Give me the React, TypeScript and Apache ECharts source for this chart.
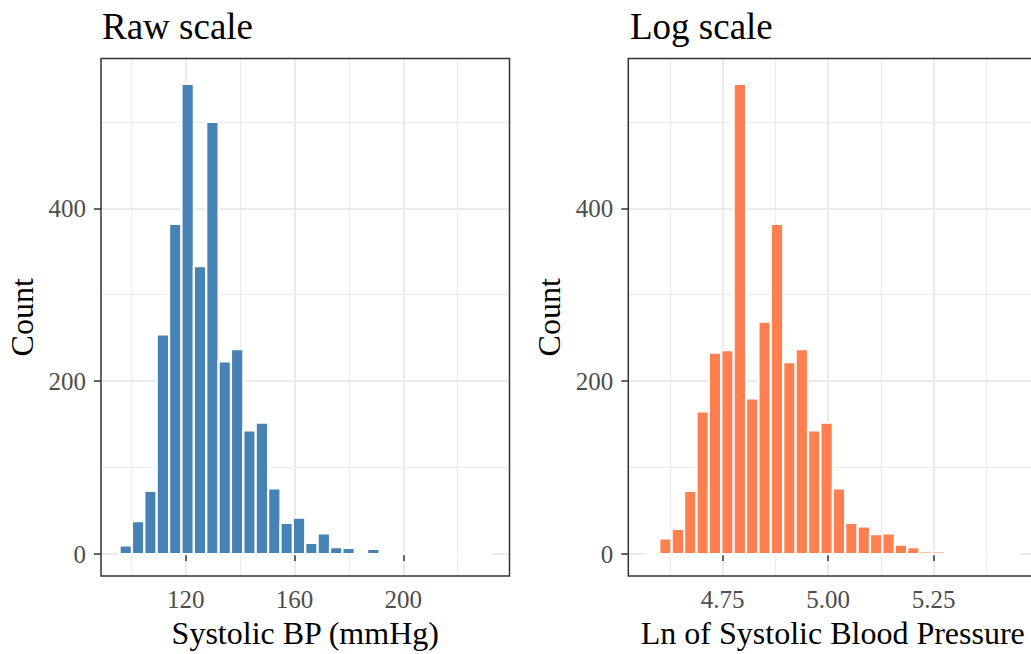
import React, { useEffect, useRef } from "react";
import * as echarts from "echarts";

// ---- data ----
const rawBinStart = 95.69;
const rawBinWidth = 4.551;
const rawCounts = [10, 38, 73, 254, 382, 544, 333, 500, 223, 237, 143, 152, 76, 36, 42, 13, 24, 8, 7, 2, 6, 0, 1, 0, 0, 0, 1, 0, 0, 1];

const lnBinStart = 4.5704;
const lnBinWidth = 0.02937;
const lnCounts = [0, 18, 29, 73, 165, 233, 236, 544, 180, 269, 382, 222, 237, 143, 152, 76, 36, 32, 23, 24, 11, 8, 3, 3, 0, 0, 1, 0, 0, 1];

const yTicks = [0, 200, 400];
const yMinor = [100, 300, 500];
const rawTicks = [120, 160, 200];
const rawMinor = [100, 140, 180, 220];
const lnTicks = [4.75, 5.0, 5.25];
const lnMinor = [4.625, 4.875, 5.125, 5.375];

const Y_MIN = -25.5;
const Y_MAX = 573.3;

const FONT = "'Liberation Serif', 'Times New Roman', serif";

function bins(start: number, width: number, counts: number[]) {
  return counts.map((c, i) => [start + i * width, start + (i + 1) * width, c]);
}

const rawData = bins(rawBinStart, rawBinWidth, rawCounts);
const lnData = bins(lnBinStart, lnBinWidth, lnCounts);

const GRID_COLOR = "#EBEBEB";
const DARK = "#333333";

function mainX(gridIndex: number, min: number, max: number, ticks: number[], name: string, fmt: (v: number) => string) {
  return {
    type: "value",
    gridIndex,
    min,
    max,
    position: "bottom",
    name,
    nameLocation: "middle",
    nameGap: 36,
    nameTextStyle: { fontFamily: FONT, fontSize: 32, color: "#000" },
    axisLine: { show: false },
    axisTick: { show: true, length: 7, lineStyle: { color: DARK, width: 1.5 }, customValues: ticks },
    axisLabel: { show: true, margin: 11, fontFamily: FONT, fontSize: 25, color: "#4D4D4D", customValues: ticks, formatter: fmt },
    splitLine: { show: true, lineStyle: { color: GRID_COLOR, width: 2 } },
  };
}

function minorX(gridIndex: number, min: number, max: number, ticks: number[]) {
  return {
    type: "value",
    gridIndex,
    min,
    max,
    position: "bottom",
    axisLine: { show: false },
    axisTick: { show: false, customValues: ticks },
    axisLabel: { show: false, customValues: ticks },
    splitLine: { show: true, lineStyle: { color: GRID_COLOR, width: 1.1 } },
  };
}

function mainY(gridIndex: number) {
  return {
    type: "value",
    gridIndex,
    min: Y_MIN,
    max: Y_MAX,
    name: "Count",
    nameLocation: "middle",
    nameGap: 63,
    nameTextStyle: { fontFamily: FONT, fontSize: 32, color: "#000" },
    axisLine: { show: false },
    axisTick: { show: true, length: 7, lineStyle: { color: DARK, width: 1.5 }, customValues: yTicks },
    axisLabel: { show: true, margin: 15, fontFamily: FONT, fontSize: 25, color: "#4D4D4D", customValues: yTicks },
    splitLine: { show: true, lineStyle: { color: GRID_COLOR, width: 2 } },
  };
}

function minorY(gridIndex: number) {
  return {
    type: "value",
    gridIndex,
    min: Y_MIN,
    max: Y_MAX,
    axisLine: { show: false },
    axisTick: { show: false, customValues: yMinor },
    axisLabel: { show: false, customValues: yMinor },
    splitLine: { show: true, lineStyle: { color: GRID_COLOR, width: 1.1 } },
  };
}

function histSeries(xAxisIndex: number, yAxisIndex: number, data: number[][], color: string) {
  return {
    type: "custom",
    xAxisIndex,
    yAxisIndex,
    z: 5,
    data,
    encode: { x: [0, 1], y: 2 },
    renderItem: (params: any, api: any) => {
      const x0 = api.value(0);
      const x1 = api.value(1);
      const c = api.value(2);
      const p0 = api.coord([x0, c]);
      const p1 = api.coord([x1, 0]);
      return {
        type: "rect",
        shape: { x: p0[0], y: p0[1], width: p1[0] - p0[0], height: p1[1] - p0[1] },
        style: { fill: color, stroke: "#FFFFFF", lineWidth: 2.2 },
      };
    },
  };
}

export default function App() {
  const ref = useRef<HTMLDivElement>(null);
  useEffect(() => {
    if (!ref.current) return;
    const chart = echarts.init(ref.current, undefined, { renderer: "svg" });
    const option: any = {
      animation: false,
      backgroundColor: "#FFFFFF",
      title: [
        { text: "Raw scale", left: 97, top: 3, textStyle: { fontFamily: FONT, fontSize: 37, fontWeight: "normal", color: "#000" } },
        { text: "Log scale", left: 625, top: 3, textStyle: { fontFamily: FONT, fontSize: 37, fontWeight: "normal", color: "#000" } },
      ],
      grid: [
        { left: 101, top: 58.5, width: 408.5, height: 521, show: true, borderColor: DARK, borderWidth: 1.5, backgroundColor: "transparent", z: 3 },
        { left: 628.3, top: 58.5, width: 409, height: 521, show: true, borderColor: DARK, borderWidth: 1.5, backgroundColor: "transparent", z: 3 },
      ],
      xAxis: [
        mainX(0, 88.86, 239.04, rawTicks, "Systolic BP (mmHg)", (v: number) => String(v)),
        minorX(0, 88.86, 239.04, rawMinor),
        mainX(1, 4.5263, 5.4955, lnTicks, "Ln of Systolic Blood Pressure", (v: number) => v.toFixed(2)),
        minorX(1, 4.5263, 5.4955, lnMinor),
      ],
      yAxis: [mainY(0), minorY(0), mainY(1), minorY(1)],
      series: [histSeries(0, 0, rawData, "#4682B4"), histSeries(2, 2, lnData, "#FF7F50")],
    };
    chart.setOption(option);
    return () => chart.dispose();
  }, []);
  return (
    <div style={{ position: "fixed", left: 0, top: 0, width: 1031, height: 654, overflow: "hidden", background: "#fff" }}>
      <div ref={ref} style={{ width: 1045, height: 654 }} />
    </div>
  );
}
